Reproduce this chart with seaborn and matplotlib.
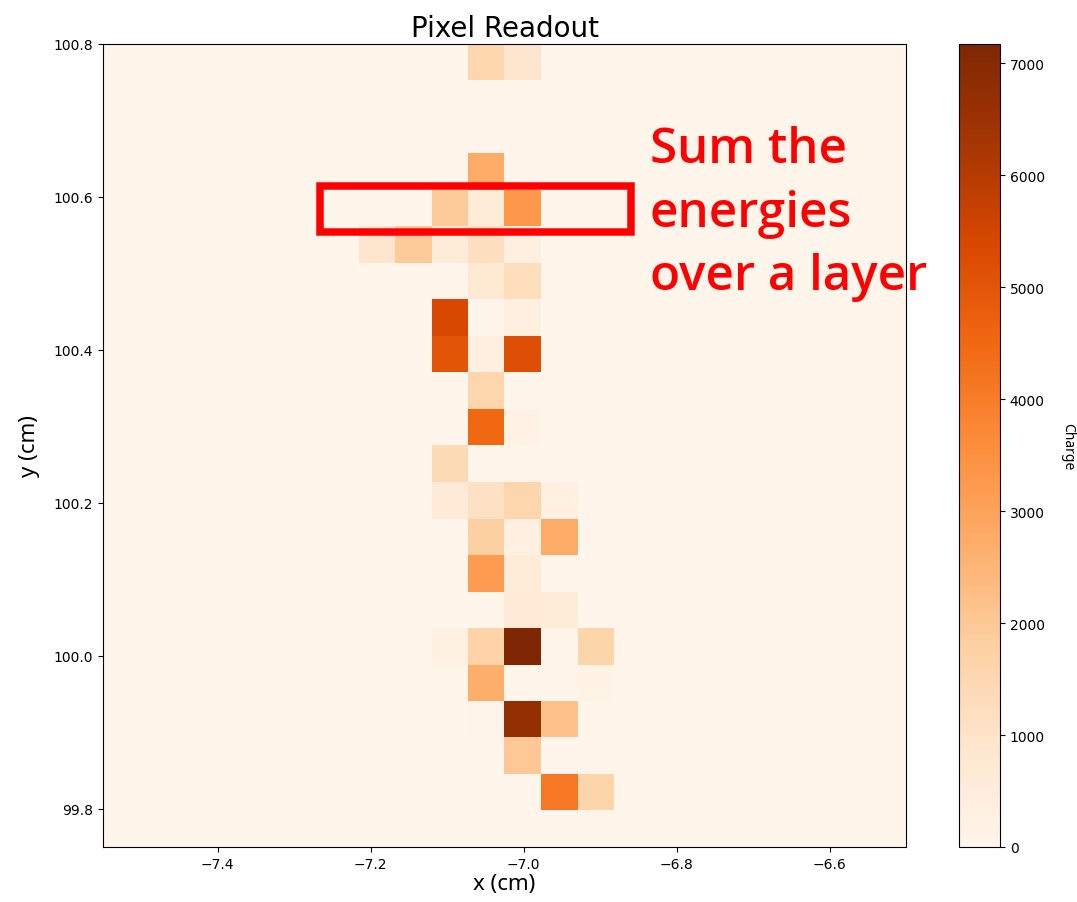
import numpy as np
import pandas as pd
import matplotlib
matplotlib.use("Agg")
import matplotlib.pyplot as plt
import seaborn as sns
from matplotlib.patches import Rectangle

# ---- data ----
pitch = 1.05 / 22
x_range = (-7.55, -6.50)
y_range = (99.75, 100.80)

# pixel centres (cm) and charges of hit pixels
hit_x = [-7.049, -7.001,
         -7.049,
         -7.097, -7.049, -7.001,
         -7.192, -7.144, -7.097, -7.049, -7.001,
         -7.049, -7.001, -6.953,
         -7.097, -7.001,
         -7.097, -7.049, -7.001,
         -7.049,
         -7.049, -7.001,
         -7.097,
         -7.097, -7.049, -7.001, -6.953,
         -7.049, -7.001, -6.953,
         -7.097, -7.049, -7.001,
         -7.097, -7.001, -6.953,
         -7.097, -7.049, -7.001, -6.906,
         -7.097, -7.049, -6.906,
         -7.049, -7.001, -6.953,
         -7.001,
         -6.953, -6.906]
hit_y = [100.776, 100.776,
         100.633,
         100.585, 100.585, 100.585,
         100.538, 100.538, 100.538, 100.538, 100.538,
         100.490, 100.490, 100.490,
         100.442, 100.442,
         100.394, 100.394, 100.394,
         100.347,
         100.299, 100.299,
         100.251,
         100.203, 100.203, 100.203, 100.203,
         100.156, 100.156, 100.156,
         100.108, 100.108, 100.108,
         100.060, 100.060, 100.060,
         100.013, 100.013, 100.013, 100.013,
         99.965, 99.965, 99.965,
         99.917, 99.917, 99.917,
         99.869,
         99.822, 99.822]
charge = [1550, 900,
          2750,
          1950, 600, 3300,
          900, 1950, 600, 1150, 350,
          750, 1250, 80,
          5400, 350,
          5000, 350, 5200,
          1550,
          4500, 250,
          1400,
          650, 1100, 1550, 300,
          1800, 300, 2800,
          100, 3200, 600,
          40, 650, 600,
          300, 1700, 7170, 1600,
          100, 2700, 150,
          80, 6700, 2200,
          2000,
          4100, 1600]
cbar_ticks = [0, 1000, 2000, 3000, 4000, 5000, 6000, 7000]
x_ticks = [-7.4, -7.2, -7.0, -6.8, -6.6]
y_ticks = [99.8, 100.0, 100.2, 100.4, 100.6, 100.8]

# layer highlighted by the box
box_x = (-7.266, -6.860)
box_y = (100.554, 100.614)

df = pd.DataFrame({"x": hit_x, "y": hit_y, "charge": charge})

x_edges = np.linspace(x_range[0], x_range[1], 23)
y_edges = np.linspace(y_range[0], y_range[1], 23)

fig = plt.figure(figsize=(10.77, 9.03), dpi=100)
ax = fig.add_axes([103 / 1077, 55 / 903, 803 / 1077, 803 / 903])
cax = fig.add_axes([959 / 1077, 55 / 903, 41 / 1077, 803 / 903])

sns.histplot(data=df, x="x", y="y", weights="charge",
             bins=[x_edges, y_edges], thresh=None, cmap="Oranges",
             vmin=0, vmax=max(charge), cbar=True, cbar_ax=cax, ax=ax)

ax.set_xlim(*x_range)
ax.set_ylim(*y_range)
ax.set_xticks(x_ticks)
ax.set_yticks(y_ticks)
ax.set_xticklabels([f"{v:.1f}".replace("-", "\u2212") for v in x_ticks])
ax.set_yticklabels([f"{v:.1f}" for v in y_ticks])
ax.tick_params(labelsize=10)
ax.set_title("Pixel Readout", fontsize=20, family="DejaVu Sans")
ax.set_xlabel("x (cm)", fontsize=16, family="Noto Sans", labelpad=2)
ax.set_ylabel("y (cm)", fontsize=16, family="Noto Sans", labelpad=10)

cax.set_yticks(cbar_ticks)
cax.tick_params(labelsize=10)
cax.set_ylabel("Charge", rotation=270, labelpad=22, fontsize=10, family="Noto Sans")

rect = Rectangle((box_x[0], box_y[0]), box_x[1] - box_x[0], box_y[1] - box_y[0],
                 fill=False, edgecolor="red", linewidth=5.4)
ax.add_patch(rect)

ax.text(0.681, 0.6949, "Sum the\nenergies\nover a layer", transform=ax.transAxes,
        color="red", fontsize=35.5, fontweight="semibold",
        family=["Open Sans", "DejaVu Sans"],
        va="baseline", ha="left", linespacing=1.39, clip_on=False)

fig.savefig("out.png", dpi=100)
